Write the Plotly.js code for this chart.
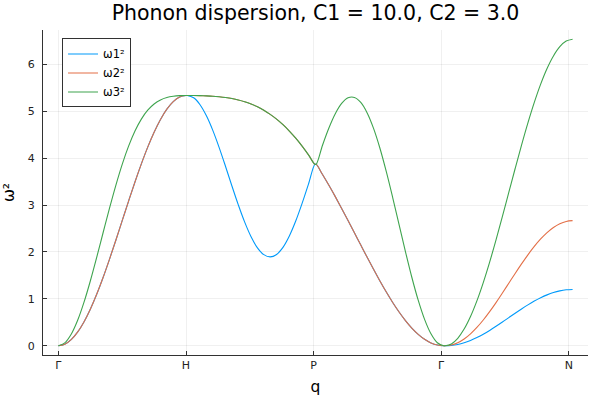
<!DOCTYPE html>
<html>
<head>
<meta charset="utf-8">
<script src="https://cdn.plot.ly/plotly-3.0.1.min.js"></script>
<style>html,body{margin:0;padding:0;background:#fff;}#chart{width:600px;height:400px;}</style>
</head>
<body>
<div id="chart"></div>
<script>
// path coordinate q (segments Γ-H, H-P, P-Γ, Γ-N)
const q = [
  0.00,0.05,0.10,0.15,0.20,0.25,0.30,0.35,0.40,0.45,0.50,0.55,0.60,0.65,0.70,0.75,0.80,0.85,0.90,0.95,1.00,
  1.01,1.06,1.11,1.16,1.21,1.26,1.31,1.36,1.41,1.46,1.51,1.56,1.61,1.66,1.71,1.76,1.81,1.86,1.91,1.96,2.01,
  2.02,2.07,2.12,2.17,2.22,2.27,2.32,2.37,2.42,2.47,2.52,2.57,2.62,2.67,2.72,2.77,2.82,2.87,2.92,2.97,3.02,
  3.03,3.08,3.13,3.18,3.23,3.28,3.33,3.38,3.43,3.48,3.53,3.58,3.63,3.68,3.73,3.78,3.83,3.88,3.93,3.98,4.03
];
const omega1sq = [
  0,0.033,0.131,0.291,0.509,0.781,1.099,1.456,1.843,2.250,2.667,3.084,3.491,3.877,4.234,4.552,4.824,5.043,5.203,5.301,5.333,
  5.333,5.284,5.137,4.901,4.591,4.224,3.821,3.406,3.003,2.635,2.324,2.088,1.942,1.894,1.947,2.098,2.340,2.658,3.034,3.445,3.867,
  3.867,3.650,3.420,3.179,2.928,2.670,2.409,2.146,1.885,1.629,1.381,1.145,0.924,0.721,0.538,0.379,0.245,0.139,0.062,0.016,0,
  0,0.007,0.029,0.065,0.115,0.176,0.247,0.328,0.415,0.506,0.600,0.694,0.785,0.872,0.953,1.024,1.085,1.135,1.171,1.193,1.200
];
const omega2sq = [
  0,0.033,0.131,0.291,0.509,0.781,1.099,1.456,1.843,2.250,2.667,3.084,3.491,3.877,4.234,4.552,4.824,5.043,5.203,5.301,5.333,
  5.333,5.333,5.330,5.325,5.318,5.306,5.290,5.268,5.239,5.201,5.152,5.092,5.020,4.932,4.830,4.711,4.576,4.424,4.255,4.069,3.867,
  3.867,3.650,3.420,3.179,2.928,2.670,2.409,2.146,1.885,1.629,1.381,1.145,0.924,0.721,0.538,0.379,0.245,0.139,0.062,0.016,0,
  0,0.016,0.065,0.145,0.255,0.391,0.550,0.728,0.921,1.125,1.333,1.542,1.745,1.939,2.117,2.276,2.412,2.521,2.601,2.650,2.667
];
const omega3sq = [
  0,0.062,0.245,0.538,0.924,1.381,1.885,2.409,2.928,3.420,3.867,4.254,4.576,4.830,5.020,5.152,5.239,5.290,5.317,5.330,5.333,
  5.333,5.333,5.330,5.325,5.318,5.306,5.290,5.268,5.239,5.201,5.152,5.092,5.020,4.932,4.830,4.711,4.576,4.424,4.255,4.069,3.867,
  3.867,4.274,4.641,4.945,5.164,5.284,5.292,5.185,4.962,4.633,4.210,3.711,3.160,2.583,2.007,1.461,0.972,0.563,0.256,0.065,0,
  0,0.040,0.160,0.356,0.624,0.957,1.347,1.784,2.257,2.756,3.267,3.778,4.276,4.750,5.187,5.577,5.910,6.177,6.374,6.493,6.533
];
const seriesNames = ['ω1²','ω2²','ω3²'];
const tickPos = [0,1,2,3,4];
const tickLabels = ['Γ','H','P','Γ','N'];

const colors = ['#009AFA','#E36F47','#3EA44E'];
const ys = [omega1sq, omega2sq, omega3sq];
const traces = ys.map((y,i)=>({
  x: q, y: y, type: 'scatter', mode: 'lines', name: seriesNames[i],
  line: {color: colors[i], width: 1.1, shape: 'spline', smoothing: 1}
}));

const axisCommon = {
  showline: true, linecolor: 'rgb(50,50,50)', linewidth: 1,
  ticks: 'inside', ticklen: 4, tickcolor: 'rgb(50,50,50)', tickwidth: 1,
  showgrid: true, gridcolor: 'rgba(0,0,0,0.06)', gridwidth: 1,
  zeroline: false, mirror: false,
  tickfont: {family: 'DejaVu Sans', size: 11, color: '#222'}
};

const layout = {
  width: 600, height: 400,
  margin: {l: 43, r: 12, t: 30, b: 45},
  paper_bgcolor: '#fff', plot_bgcolor: '#fff',
  title: {text: 'Phonon dispersion, C1 = 10.0, C2 = 3.0', font: {family: 'DejaVu Sans', size: 20.5, color: '#000'},
          x: 0.5, xref: 'paper', xanchor: 'center', y: 0.967, yref: 'container', yanchor: 'middle'},
  xaxis: Object.assign({}, axisCommon, {
    range: [-0.1209, 4.1509], tickvals: tickPos, ticktext: tickLabels,
    title: {text: 'q', font: {family: 'DejaVu Sans', size: 15.5, color: '#000'}, standoff: 9}
  }),
  yaxis: Object.assign({}, axisCommon, {
    range: [-0.196, 6.7293], tickvals: [0,1,2,3,4,5,6], ticklabelstandoff: 5,
    title: {text: 'ω²', font: {family: 'DejaVu Sans', size: 15.5, color: '#000'}, standoff: 10}
  }),
  showlegend: true,
  legend: {x: 0.0349, y: 0.974, xanchor: 'left', yanchor: 'top',
           bgcolor: '#fff', bordercolor: 'rgb(50,50,50)', borderwidth: 1,
           font: {family: 'DejaVu Sans', size: 11.5, color: '#000'}, tracegroupgap: 0}
};

Plotly.newPlot('chart', traces, layout, {displayModeBar: false, staticPlot: true});
</script>
</body>
</html>
